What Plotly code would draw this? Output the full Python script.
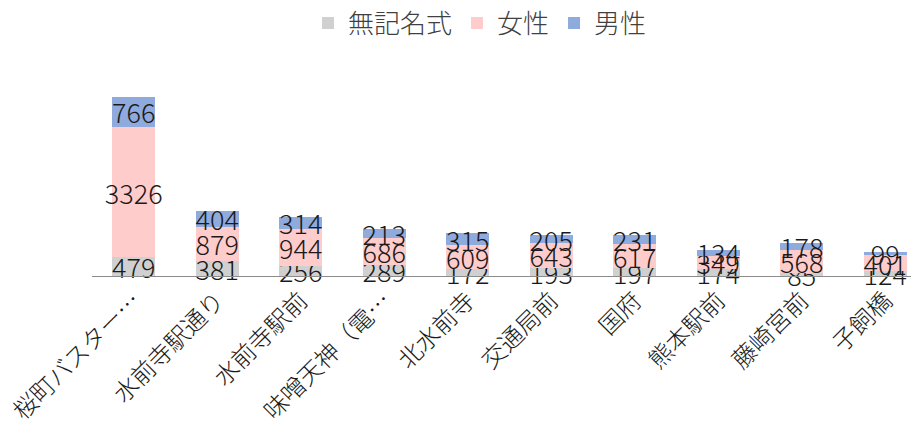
import plotly.graph_objects as go

categories = ["桜町バスター…", "水前寺駅通り", "水前寺駅前", "味噌天神（電…", "北水前寺",
              "交通局前", "国府", "熊本駅前", "藤崎宮前", "子飼橋"]
mukimei = [479, 381, 256, 289, 172, 193, 197, 174, 85, 124]
josei = [3326, 879, 944, 686, 609, 643, 617, 349, 568, 401]
dansei = [766, 404, 314, 213, 315, 205, 231, 134, 178, 99]

FONT = "Noto Sans CJK JP"
series = [("無記名式", mukimei, "#d0d0d0"), ("女性", josei, "#ffcccc"), ("男性", dansei, "#8faadc")]

fig = go.Figure()
for name, vals, color in series:
    fig.add_trace(go.Bar(
        x=categories, y=vals, name=name, marker=dict(color=color, line=dict(width=0)),
        text=[str(v) for v in vals], textposition="inside", insidetextanchor="middle",
        textangle=0, textfont=dict(family=FONT, size=27, color="#1a1a1a", weight=300),
        cliponaxis=False,
    ))

fig.update_layout(
    barmode="stack", bargap=0.485,
    width=919, height=430,
    margin=dict(l=84, r=0, t=72, b=162, autoexpand=False),
    paper_bgcolor="white", plot_bgcolor="white",
    font=dict(family=FONT, size=24, color="#262626", weight=300),
    uniformtext=dict(minsize=27, mode="show"),
    legend=dict(orientation="h", x=0.5136, xref="container", xanchor="center",
                y=0.965, yref="container", yanchor="middle",
                font=dict(family=FONT, size=26, color="#404040", weight=300),
                itemsizing="constant", traceorder="normal", itemwidth=30),
    showlegend=True,
)
fig.update_xaxes(range=[-0.5, 9.5], tickangle=-45, showline=True, linecolor="#8c8c8c",
                 linewidth=1, ticks="", automargin=False,
                 tickfont=dict(family=FONT, size=24, color="#1a1a1a", weight=300))
fig.update_yaxes(range=[0, 5000], visible=False, showgrid=False, automargin=False)

fig.write_html("out.html")
